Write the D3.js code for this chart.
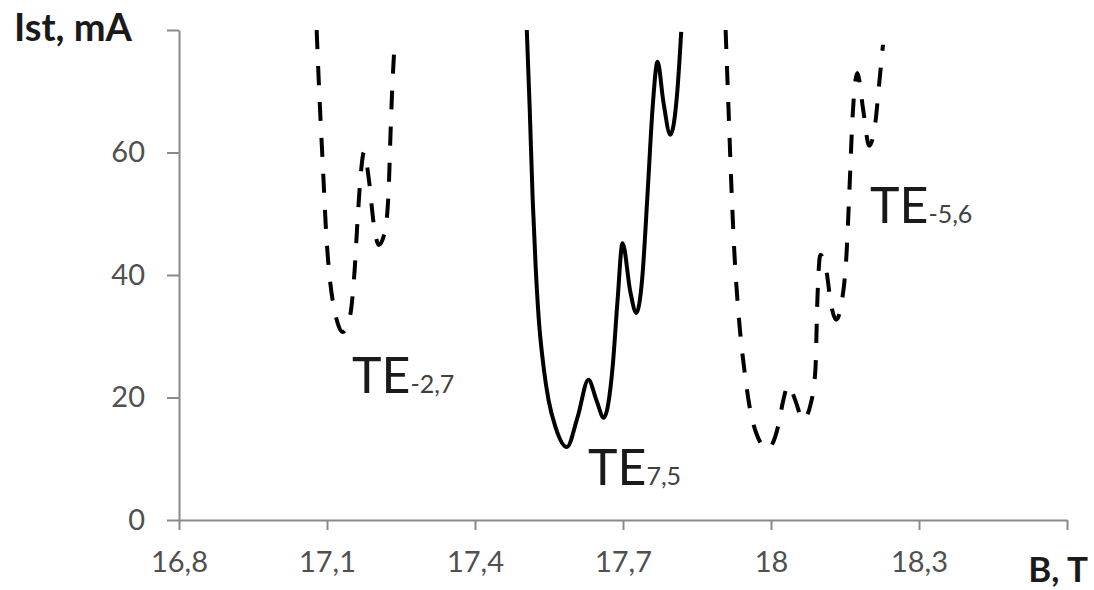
<!DOCTYPE html>
<html>
<head>
<meta charset="utf-8">
<script src="https://cdnjs.cloudflare.com/ajax/libs/d3/7.8.5/d3.min.js"></script>
<style>
    body { margin: 0; background: #fff; }
    svg { display: block; font-family: Lato, "Open Sans", sans-serif; }
</style>
</head>
<body>
<svg id="chart"></svg>
<script>
// axis ticks
var xTicks = [16.8, 17.1, 17.4, 17.7, 18.0, 18.3, 18.6];
var xTickLabels = ["16,8", "17,1", "17,4", "17,7", "18", "18,3", ""];
var yTicks = [0, 20, 40, 60, 80];
var yTickLabels = ["0", "20", "40", "60", ""];   // top label hidden under the axis title

// TE-2,7 (dashed)
var te27B = [17.079, 17.085, 17.092, 17.098, 17.106, 17.116, 17.132, 17.146, 17.156, 17.162,
             17.168, 17.175, 17.185, 17.195, 17.205, 17.217, 17.225, 17.229, 17.233, 17.237];
var te27I = [80.0, 68.6, 57.1, 47.3, 39.2, 34.0, 30.7, 33.0, 40.8, 49.0,
             56.0, 60.1, 55.5, 48.2, 44.9, 47.0, 53.9, 63.7, 71.8, 77.7];

// TE7,5 (solid)
var te75B = [17.505, 17.511, 17.517, 17.523, 17.529, 17.539, 17.549, 17.563, 17.586, 17.608,
             17.630, 17.646, 17.661, 17.679, 17.689, 17.699, 17.715, 17.727, 17.739, 17.750,
             17.760, 17.770, 17.782, 17.796, 17.810, 17.818];
var te75I = [80.0, 66.9, 52.2, 41.3, 33.1, 25.0, 19.6, 15.2, 11.9, 16.8,
             22.9, 19.6, 16.7, 25.0, 35.9, 45.2, 37.2, 33.8, 39.5, 53.6,
             67.3, 74.8, 68.2, 62.9, 69.9, 79.7];

// TE-5,6 (dashed)
var te56B = [17.908, 17.914, 17.920, 17.926, 17.932, 17.938, 17.946, 17.956, 17.970, 17.993,
             18.015, 18.025, 18.035, 18.049, 18.065, 18.080, 18.090, 18.094, 18.100, 18.112,
             18.122, 18.132, 18.144, 18.153, 18.159, 18.165, 18.175, 18.187, 18.199, 18.211,
             18.219, 18.227];
var te56I = [80.0, 66.9, 53.9, 43.3, 35.9, 30.2, 24.5, 18.8, 14.2, 11.6,
             15.5, 19.6, 22.0, 19.6, 16.3, 18.8, 24.5, 35.9, 43.3, 40.8,
             35.1, 32.7, 35.9, 43.3, 53.9, 65.3, 73.0, 66.9, 61.1, 64.5,
             71.0, 77.6];

(function(){
    "use strict";

    var width = 1094,
        height = 590;

    var svg = d3.select("svg#chart")
        .attr("width", width)
        .attr("height", height);

    var x = d3.scaleLinear().domain([16.8, 18.6]).range([179, 1067]);
    var y = d3.scaleLinear().domain([0, 80]).range([520, 30]);

    svg.append("clipPath").attr("id", "plot")
        .append("rect")
        .attr("x", x(16.8)).attr("y", y(80))
        .attr("width", x(18.6) - x(16.8)).attr("height", y(0) - y(80));

    // axes
    var xAxis = d3.axisBottom(x)
        .tickValues(xTicks)
        .tickSize(10)
        .tickSizeOuter(0)
        .tickFormat(function(d, i) { return xTickLabels[i]; });

    var yAxis = d3.axisLeft(y)
        .tickValues(yTicks)
        .tickSize(12)
        .tickSizeOuter(0)
        .tickFormat(function(d, i) { return yTickLabels[i]; });

    var gx = svg.append("g")
        .attr("transform", "translate(0," + y(0) + ")")
        .call(xAxis);
    gx.selectAll("text")
        .attr("y", 52).attr("dy", 0)
        .style("font-size", "29px")
        .style("font-family", "Lato")
        .attr("fill", "#505050");

    var gy = svg.append("g")
        .attr("transform", "translate(" + x(16.8) + ",0)")
        .call(yAxis);
    gy.selectAll("text")
        .attr("x", -34)
        .style("font-size", "29px")
        .style("font-family", "Lato")
        .attr("fill", "#505050");

    svg.selectAll(".domain, .tick line")
        .attr("stroke", "#8a8a8a")
        .attr("stroke-width", 2);

    // curves
    var line = d3.line()
        .x(function(d) { return x(d[0]); })
        .y(function(d) { return y(d[1]); })
        .curve(d3.curveMonotoneX);

    var series = [
        {b: te27B, i: te27I, dash: "19,17"},
        {b: te75B, i: te75I, dash: null},
        {b: te56B, i: te56I, dash: "19,17"}
    ];

    svg.append("g")
        .attr("clip-path", "url(#plot)")
        .selectAll("path")
        .data(series)
        .enter().append("path")
        .attr("d", function(s) { return line(d3.zip(s.b, s.i)); })
        .attr("fill", "none")
        .attr("stroke", "#000")
        .attr("stroke-width", 4)
        .attr("stroke-dasharray", function(s) { return s.dash; });

    // axis titles
    svg.append("text")
        .attr("x", 14).attr("y", 41)
        .style("font-size", "38px").style("font-weight", "bold")
        .attr("fill", "#1a1a1a")
        .text("Ist, mA");
    svg.append("text")
        .attr("x", 1088).attr("y", 582)
        .attr("text-anchor", "end")
        .style("font-size", "35px").style("font-weight", "bold")
        .attr("fill", "#1a1a1a")
        .text("B, T");

    // mode labels
    var modes = [
        {x: 352, y: 393, sub: "-2,7"},
        {x: 588, y: 485, sub: "7,5"},
        {x: 870, y: 223, sub: "-5,6"}
    ];
    var lbl = svg.selectAll("text.mode")
        .data(modes)
        .enter().append("text")
        .attr("class", "mode")
        .attr("x", function(d) { return d.x; })
        .attr("y", function(d) { return d.y; })
        .attr("fill", "#1a1a1a");
    lbl.append("tspan").style("font-size", "50px").text("TE");
    lbl.append("tspan").style("font-size", "25px").attr("fill", "#404040")
        .text(function(d) { return d.sub; });

})();
</script>
</body>
</html>
